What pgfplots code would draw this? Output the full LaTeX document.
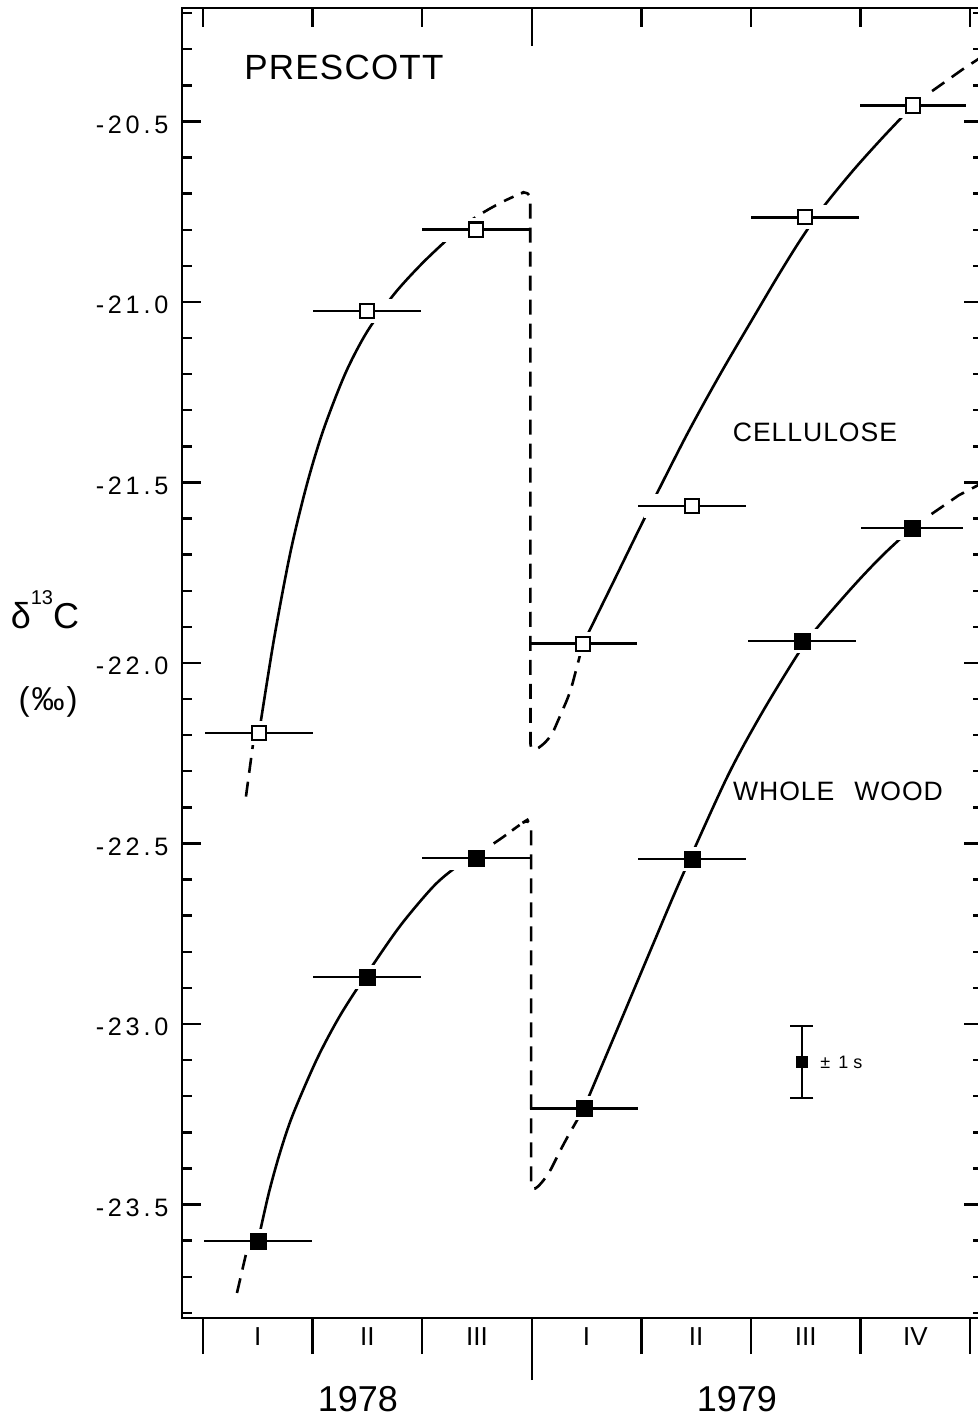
\documentclass[border=0pt]{standalone}
\usepackage{fontspec}
\setmainfont{Liberation Sans}
\newfontfamily\wide[LetterSpace=15]{Liberation Sans}
\newfontfamily\lwide[LetterSpace=3.5]{Liberation Sans}
\usepackage{pgfplots}
\pgfplotsset{compat=1.18}

% shared frame for the three stacked axes (0.5pt per reference pixel)
\pgfplotsset{
  frame/.style={scale only axis, width=400.5pt, height=655pt,
    xmin=-0.1916, xmax=7.117, ymin=-23.8144, ymax=-20.1856,
    tick style={black, line width=1.2pt}},
  curve/.style={black, line width=1.3pt, mark=none},
  dash/.style={curve, dash pattern=on 7.5pt off 4.5pt},
}

\begin{document}
\begin{tikzpicture}

% bottom ticks, pointing out
\begin{axis}[frame, axis line style={draw=none}, ytick=\empty,
  xtick={0,1,2,4,5,6,7}, xticklabels={}, xtick pos=left,
  tick align=outside, major tick length=18pt,
  extra x ticks={3}, extra x tick labels={},
  extra x tick style={major tick length=31pt}]
\end{axis}

% quarter names
\begin{axis}[frame, axis line style={draw=none}, ytick=\empty,
  xtick={0.5,1.5,2.5,3.5,4.5,5.5,6.5},
  xticklabels={I,II,III,I,II,III,IV}, xtick pos=left,
  major tick length=0pt,
  xticklabel style={font=\fontsize{13}{13}\selectfont, yshift=-1.2pt}]
\end{axis}

\begin{axis}[frame, clip mode=individual,
  axis line style={line width=1.35pt},
  tick align=inside, major tick length=9.5pt, minor tick length=5pt,
  xtick={0,1,2,4,5,6,7}, xticklabels={}, xtick pos=right,
  extra x ticks={3}, extra x tick labels={},
  extra x tick style={major tick length=19pt},
  ytick={-23.5,-23,-22.5,-22,-21.5,-21,-20.5},
  yticklabels={-23.5,-23.0,-22.5,-22.0,-21.5,-21.0,-20.5},
  minor ytick={-23.8,-23.7,-23.6,-23.4,-23.3,-23.2,-23.1,-22.9,-22.8,-22.7,-22.6,
    -22.4,-22.3,-22.2,-22.1,-21.9,-21.8,-21.7,-21.6,-21.4,-21.3,-21.2,-21.1,
    -20.9,-20.8,-20.7,-20.6,-20.4,-20.3,-20.2},
  yticklabel pos=left,
  yticklabel style={font=\wide\fontsize{12.6}{12.6}\selectfont, xshift=-3.3pt, yshift=-1.5pt},
]

% cellulose curves
\addplot[dash] coordinates {(0.392,-22.370) (0.470,-22.194)};
\addplot[curve, smooth] coordinates {
  (0.511,-22.194) (0.65,-21.930) (0.80,-21.690) (0.95,-21.503) (1.10,-21.353)
  (1.30,-21.197) (1.50,-21.081) (1.75,-20.976) (2.00,-20.893) (2.25,-20.821)
  (2.372,-20.789)};
\addplot[dash, rounded corners=5pt] coordinates {
  (2.372,-20.789) (2.527,-20.757) (2.701,-20.727) (2.847,-20.706) (2.986,-20.688)
  (2.988,-22.252) (3.166,-22.211) (3.349,-22.083) (3.467,-21.947)};
\addplot[curve, smooth] coordinates {
  (3.467,-21.947) (3.75,-21.772) (4.042,-21.591) (4.407,-21.372) (4.717,-21.201)
  (5.018,-21.045) (5.25,-20.926) (5.447,-20.830) (5.657,-20.738) (5.931,-20.636)
  (6.20,-20.545) (6.478,-20.456)};
\addplot[dash] coordinates {(6.478,-20.456) (6.642,-20.418) (6.934,-20.355) (7.12,-20.318)};

% whole wood curves
\addplot[dash] coordinates {(0.310,-23.745) (0.420,-23.601)};
\addplot[curve, smooth] coordinates {
  (0.502,-23.601) (0.60,-23.469) (0.70,-23.359) (0.82,-23.251) (1.04,-23.097)
  (1.25,-22.977) (1.496,-22.861) (1.797,-22.729) (2.099,-22.620) (2.299,-22.568)
  (2.491,-22.535)};
\addplot[dash, rounded corners=5pt] coordinates {
  (2.491,-22.535) (2.555,-22.520) (2.774,-22.475) (2.892,-22.447) (2.994,-22.428)
  (2.994,-23.470) (3.139,-23.424) (3.294,-23.330) (3.476,-23.233)};
\addplot[curve, smooth] coordinates {
  (3.476,-23.233) (3.814,-22.990) (4.115,-22.773) (4.361,-22.598) (4.781,-22.317)
  (5.091,-22.143) (5.420,-21.979) (5.602,-21.903) (5.940,-21.785) (6.20,-21.702)
  (6.469,-21.626)};
\addplot[dash] coordinates {(6.469,-21.626) (6.606,-21.596) (6.898,-21.535) (7.12,-21.50)};

% white gaps where the curves cross the bars
\addplot[only marks, mark=none, error bars/.cd, x dir=both, x explicit, error mark=none,
  error bar style={white, line width=12pt}] coordinates {
  (0.511,-22.194) +- (0.44,0) (1.496,-21.025) +- (0.44,0) (2.491,-20.800) +- (0.44,0)
  (3.467,-21.947) +- (0.44,0) (4.462,-21.565) +- (0.44,0) (5.493,-20.765) +- (0.44,0)
  (6.478,-20.456) +- (0.43,0)
  (0.502,-23.601) +- (0.44,0) (1.496,-22.870) +- (0.44,0) (2.491,-22.540) +- (0.44,0)
  (3.476,-23.233) +- (0.44,0) (4.462,-22.543) +- (0.44,0) (5.465,-21.939) +- (0.44,0)
  (6.469,-21.626) +- (0.42,0)};

% cellulose: open squares with quarter bars
\addplot[only marks, mark=none, error bars/.cd, x dir=both, x explicit, error mark=none,
  error bar style={black, line width=1.4pt}] coordinates {
  (0.511,-22.194) +- (0.49,0) (1.496,-21.025) +- (0.49,0) (2.491,-20.800) +- (0.49,0)
  (3.467,-21.947) +- (0.49,0) (4.462,-21.565) +- (0.49,0) (5.493,-20.765) +- (0.49,0)
  (6.478,-20.456) +- (0.48,0)};
\addplot[only marks, mark=square*, mark size=3.6pt,
  mark options={fill=white, draw=black, line width=1.1pt}] coordinates {
  (0.511,-22.194) (1.496,-21.025) (2.491,-20.800) (3.467,-21.947)
  (4.462,-21.565) (5.493,-20.765) (6.478,-20.456)};

% whole wood: filled squares with quarter bars
\addplot[only marks, mark=none, error bars/.cd, x dir=both, x explicit, error mark=none,
  error bar style={black, line width=1.4pt}] coordinates {
  (0.502,-23.601) +- (0.49,0) (1.496,-22.870) +- (0.49,0) (2.491,-22.540) +- (0.49,0)
  (3.476,-23.233) +- (0.49,0) (4.462,-22.543) +- (0.49,0) (5.465,-21.939) +- (0.49,0)
  (6.469,-21.626) +- (0.465,0)};
\addplot[only marks, mark=square*, mark size=4pt, mark options={fill=black, draw=black}]
  coordinates {
  (0.502,-23.601) (1.496,-22.870) (2.491,-22.540) (3.476,-23.233)
  (4.462,-22.543) (5.465,-21.939) (6.469,-21.626)};

% +-1s key
\addplot[only marks, mark=square*, mark size=2.6pt, black,
  error bars/.cd, y dir=both, y explicit, error mark=|,
  error bar style={line width=1.3pt},
  error mark options={line width=1.3pt, mark size=5.75pt}]
  coordinates {(5.465,-23.105) +- (0,0.1)};
\node[font=\fontsize{9}{9}\selectfont, anchor=west, inner sep=0pt]
  at (axis cs:5.630,-23.105) {±\hspace{4pt}1\hspace{2.5pt}s};

\node[font=\lwide\fontsize{17.5}{17.5}\selectfont] at (axis cs:1.286,-20.349) {PRESCOTT};
\node[font=\lwide\fontsize{13.3}{13.3}\selectfont] at (axis cs:5.584,-21.360) {CELLULOSE};
\node[font=\lwide\fontsize{13.3}{13.3}\selectfont] at (axis cs:5.794,-22.355) {WHOLE\hspace{10pt}WOOD};

% axis title at the left
\node[font=\fontsize{18}{18}\selectfont, inner sep=0pt] at (axis cs:-1.442,-21.853)
  {δ\raisebox{12pt}{\fontsize{10}{10}\selectfont 13}C};
\node[font=\fontsize{16.5}{16.5}\selectfont, inner sep=0pt] at (axis cs:-1.414,-22.108)
  {(\kern1pt‰\kern1pt)};

% years
\node[font=\fontsize{18}{18}\selectfont, inner sep=0pt, yshift=-40.5pt]
  at (axis cs:1.414,-23.8144) {1978};
\node[font=\fontsize{18}{18}\selectfont, inner sep=0pt, yshift=-40.5pt]
  at (axis cs:4.872,-23.8144) {1979};

\end{axis}

\pgfresetboundingbox
\path ([shift={(-91pt,-50pt)}]current axis.south west)
  rectangle ([shift={(-3pt,4pt)}]current axis.north east);
\end{tikzpicture}
\end{document}
